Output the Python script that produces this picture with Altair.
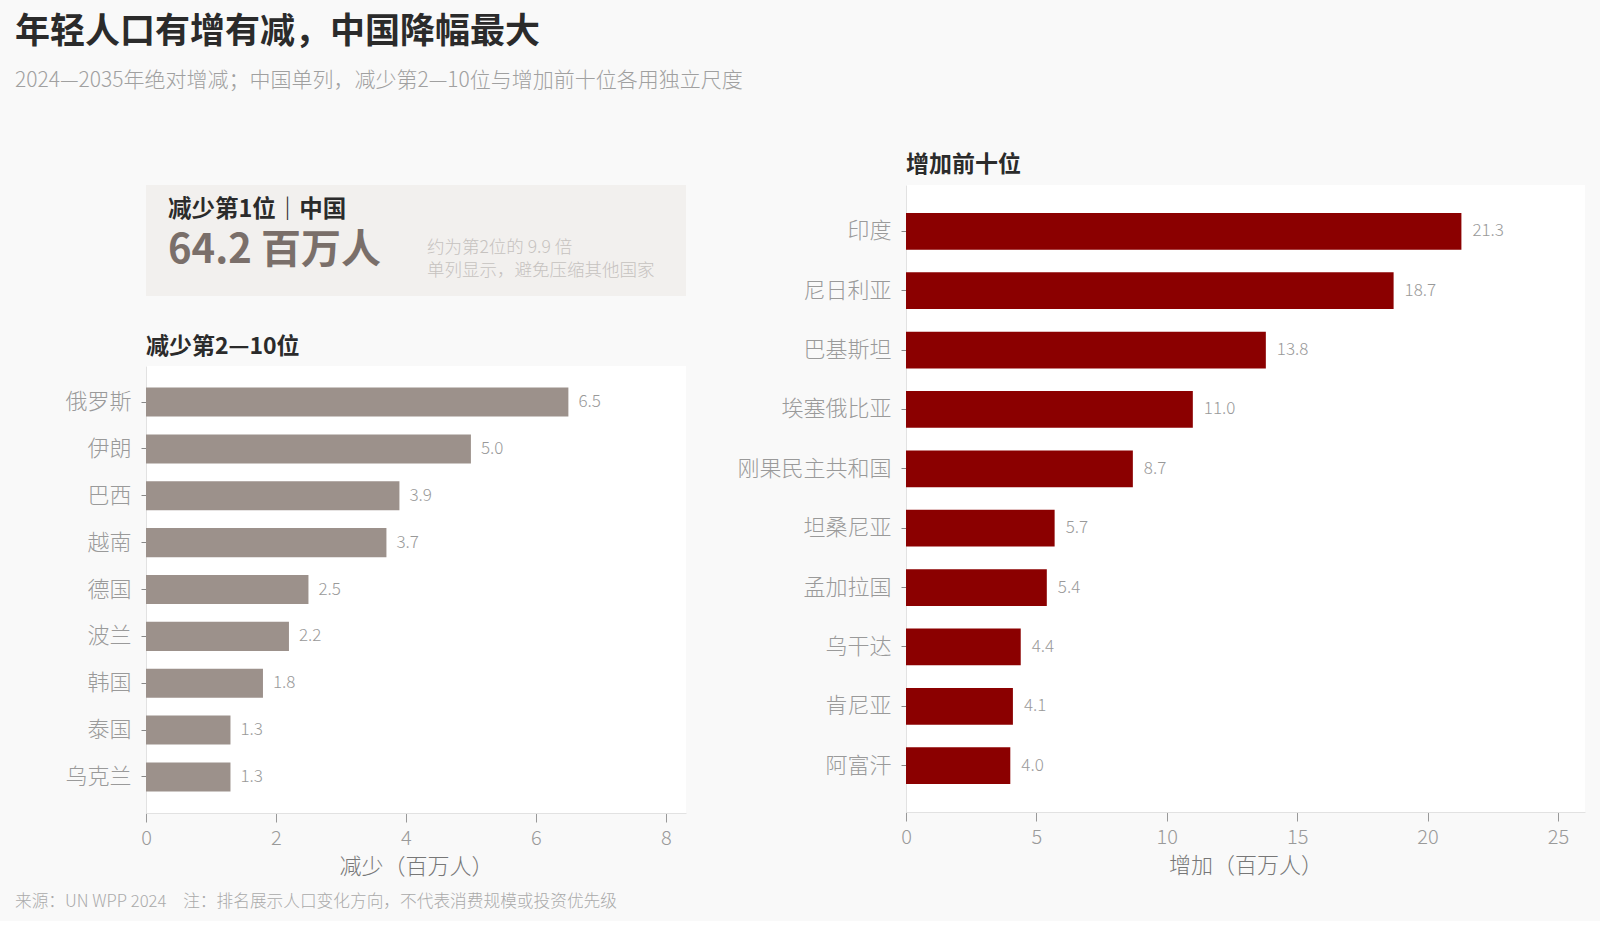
import altair as alt
import pandas as pd

FONT = "Noto Sans CJK SC"

# ---- data ----
china_name = "中国"
china_value = 64.2

dec_countries = ["俄罗斯", "伊朗", "巴西", "越南", "德国", "波兰", "韩国", "泰国", "乌克兰"]
dec_values = [6.5, 5.0, 3.9, 3.7, 2.5, 2.2, 1.8, 1.3, 1.3]

inc_countries = ["印度", "尼日利亚", "巴基斯坦", "埃塞俄比亚", "刚果民主共和国",
                 "坦桑尼亚", "孟加拉国", "乌干达", "肯尼亚", "阿富汗"]
inc_values = [21.3, 18.7, 13.8, 11.0, 8.7, 5.7, 5.4, 4.4, 4.1, 4.0]

dec_ticks = [0, 2, 4, 6, 8]
inc_ticks = [0, 5, 10, 15, 20, 25]

dec_df = pd.DataFrame({"country": dec_countries, "value": dec_values})
inc_df = pd.DataFrame({"country": inc_countries, "value": inc_values})

ratio = china_value / dec_values[0]

GRAY_BAR = "#9c918b"
RED_BAR = "#8b0000"
BG = "#f9f9f9"
BOX = "#f2f0ee"

LEFT_W = 540
RIGHT_W = 679


def y_axis():
    return alt.Axis(title=None, labelFontSize=22, labelColor="#9a9a9a", labelFont=FONT,
                    labelFontWeight=300, tickColor="#888888", tickSize=5, tickWidth=1,
                    domainColor="#e2e2e2", labelPadding=10, labelLimit=300)


def x_axis(title, ticks):
    return alt.Axis(title=title, values=ticks, format="d", grid=False, labelFontSize=20,
                    labelColor="#9a9a9a", labelFont=FONT, labelFontWeight=300,
                    labelFlush=False, tickColor="#999999", tickSize=9,
                    domainColor="#e2e2e2", labelPadding=6,
                    titleFont=FONT, titleFontSize=22, titleFontWeight=300,
                    titleColor="#777777", titlePadding=8)


# ---- box chart (China single column) ----
box_base = alt.Chart(alt.Data(values=[{"v": china_value}]))
box_rect = box_base.mark_rect(color=BOX).encode(
    x=alt.value(0), x2=alt.value(LEFT_W), y=alt.value(0), y2=alt.value(111))
box_t1 = box_base.mark_text(align="left", baseline="middle", font=FONT, fontSize=23.5,
                            fontWeight="bold", color="#2b2b2b").encode(
    x=alt.value(22), y=alt.value(25), text=alt.value(f"减少第1位｜{china_name}"))
box_t2 = box_base.mark_text(align="left", baseline="middle", font=FONT, fontSize=40,
                            fontWeight="bold", color="#7a6f6a").encode(
    x=alt.value(22), y=alt.value(66), text=alt.value(f"{china_value:.1f} 百万人"))
box_t3 = box_base.mark_text(align="left", baseline="middle", font=FONT, fontSize=17.5,
                            fontWeight=300, color="#c6c2bf").encode(
    x=alt.value(281), y=alt.value(63), text=alt.value(f"约为第2位的 {ratio:.1f} 倍"))
box_t4 = box_base.mark_text(align="left", baseline="middle", font=FONT, fontSize=17.5,
                            fontWeight=300, color="#c6c2bf").encode(
    x=alt.value(281), y=alt.value(86), text=alt.value("单列显示，避免压缩其他国家"))
box_chart = alt.layer(box_rect, box_t1, box_t2, box_t3, box_t4).properties(
    width=LEFT_W, height=111,
    view=alt.ViewBackground(fill=BG, strokeWidth=0))

# ---- decrease chart ----
dec_base = alt.Chart(dec_df)
dec_y = alt.Y("country:N", sort=None, axis=y_axis(),
              scale=alt.Scale(paddingInner=0.38, paddingOuter=0.46))
dec_x = alt.X("value:Q", axis=x_axis("减少（百万人）", dec_ticks),
              scale=alt.Scale(domain=[0, 8.31], nice=False))
dec_bars = dec_base.mark_bar(color=GRAY_BAR).encode(x=dec_x, y=dec_y)
dec_labels = dec_base.mark_text(align="left", baseline="middle", dx=10, font=FONT, fontSize=17,
                                fontWeight=300, color="#999999").encode(
    x="value:Q", y=alt.Y("country:N", sort=None), text=alt.Text("value:Q", format=".1f"))
footer = dec_base.mark_text(align="left", baseline="middle", font=FONT, fontSize=16.7,
                            fontWeight=300, color="#aaaaaa").encode(
    x=alt.value(-131), y=alt.value(536),
    text=alt.value("来源：UN WPP 2024　注：排名展示人口变化方向，不代表消费规模或投资优先级"))
dec_chart = alt.layer(dec_bars, dec_labels, footer.transform_filter("datum.country == '俄罗斯'")).properties(
    width=LEFT_W, height=447,
    title=alt.TitleParams("减少第2—10位", anchor="start", frame="group", font=FONT, fontSize=23,
                          fontWeight="bold", color="#2b2b2b", offset=7),
    view=alt.ViewBackground(fill="white", strokeWidth=0))

left = alt.vconcat(box_chart, dec_chart, spacing=40)

# ---- increase chart ----
inc_base = alt.Chart(inc_df)
inc_y = alt.Y("country:N", sort=None, axis=y_axis(),
              scale=alt.Scale(paddingInner=0.38, paddingOuter=0.47))
inc_x = alt.X("value:Q", axis=x_axis("增加（百万人）", inc_ticks),
              scale=alt.Scale(domain=[0, 26.04], nice=False))
inc_bars = inc_base.mark_bar(color=RED_BAR).encode(x=inc_x, y=inc_y)
inc_labels = inc_base.mark_text(align="left", baseline="middle", dx=11, font=FONT, fontSize=17,
                                fontWeight=300, color="#999999").encode(
    x="value:Q", y=alt.Y("country:N", sort=None), text=alt.Text("value:Q", format=".1f"))
inc_chart = alt.layer(inc_bars, inc_labels).properties(
    width=RIGHT_W, height=627,
    title=alt.TitleParams("增加前十位", anchor="start", frame="group", font=FONT, fontSize=23,
                          fontWeight="bold", color="#2b2b2b", offset=8),
    view=alt.ViewBackground(fill="white", strokeWidth=0))

chart = alt.hconcat(left, inc_chart, spacing=50).properties(
    background=BG,
    padding={"left": 15, "top": 15, "right": 15, "bottom": 10},
    title=alt.TitleParams(
        "年轻人口有增有减，中国降幅最大",
        subtitle="2024—2035年绝对增减；中国单列，减少第2—10位与增加前十位各用独立尺度",
        anchor="start", font=FONT, fontSize=35, fontWeight="bold", color="#2b2b2b",
        subtitleFont=FONT, subtitleFontSize=21, subtitleFontWeight=300,
        subtitleColor="#a0a0a0", subtitlePadding=20, offset=63),
).configure_view(strokeWidth=0)

chart.save("out.html", embed_options={"renderer": "svg", "actions": False})
